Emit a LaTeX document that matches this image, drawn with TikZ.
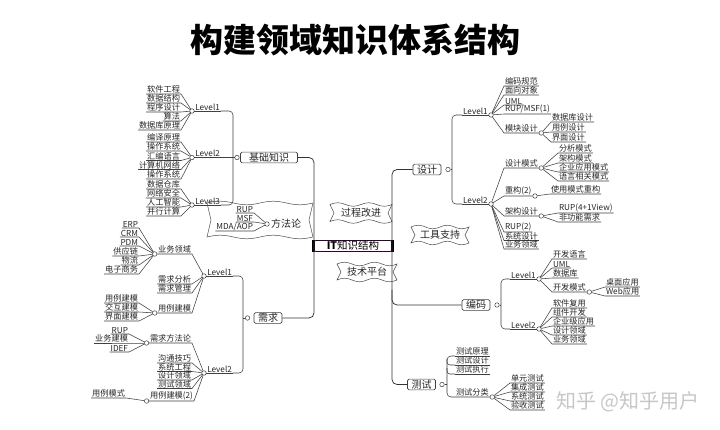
\documentclass[tikz,border=0pt]{standalone}
\usepackage{fontspec}
\setmainfont{Noto Sans CJK SC}
\usetikzlibrary{calc}
\tikzset{
  ln/.style={draw=black!75, line width=0.55pt},
  mainln/.style={draw=black!80, line width=0.75pt, rounded corners=5pt},
  kid/.style={font=\fontsize{8.2}{9}\selectfont, inner xsep=0.8pt, inner ysep=0.3pt, text=black!85},
  dot/.style={circle, draw=black!75, line width=0.5pt, fill=white, inner sep=0pt, minimum size=4.5pt},
  box/.style={draw=black!75, line width=0.6pt, rounded corners=1.5pt, font=\fontsize{10}{11}\selectfont, inner xsep=4pt, inner ysep=0.8pt, text=black!85},
  ctr/.style={draw=violet!40!black, line width=0.8pt, rounded corners=2pt, font=\fontsize{10.5}{11}\selectfont, minimum width=78pt, minimum height=11pt, inner sep=0pt},
  rib/.style={draw=black!70, line width=0.5pt},
  ribtext/.style={font=\fontsize{10}{11}\selectfont, inner sep=1pt, text=black!85},
}
\newcommand\kidsL[3]{%
  \foreach \ky/\kt [count=\kn] in {#3} {
    \node[kid, anchor=south east] (#1-\kn) at (#2,\ky) {\kt};
    \draw[ln] (#1) -- (#1-\kn.south east) -- (#1-\kn.south west);
  }}
\newcommand\kidsR[3]{%
  \foreach \ky/\kt [count=\kn] in {#3} {
    \node[kid, anchor=south west] (#1-\kn) at (#2,\ky) {\kt};
    \draw[ln] (#1) -- (#1-\kn.south west) -- (#1-\kn.south east);
  }}
\newcommand\myribbon[4]{%
 \pgfmathsetmacro\rbxa{#1-#3/2}\pgfmathsetmacro\rbxb{#1+#3/2}%
 \pgfmathsetmacro\rbya{#2-#4/2}\pgfmathsetmacro\rbyb{#2+#4/2}%
 \pgfmathsetmacro\rbq{#3/8}%
 \draw[rib] (\rbxa,\rbya)
   sin ({\rbxa+\rbq},{\rbya-1.8}) cos ({\rbxa+2*\rbq},\rbya)
   sin ({\rbxa+3*\rbq},{\rbya+1.8}) cos ({\rbxa+4*\rbq},\rbya)
   sin ({\rbxa+5*\rbq},{\rbya-1.8}) cos ({\rbxa+6*\rbq},\rbya)
   sin ({\rbxa+7*\rbq},{\rbya+1.8}) cos (\rbxb,\rbya)
   -- ({\rbxb-4},#2) -- (\rbxb,\rbyb)
   sin ({\rbxb-\rbq},{\rbyb+1.8}) cos ({\rbxb-2*\rbq},\rbyb)
   sin ({\rbxb-3*\rbq},{\rbyb-1.8}) cos ({\rbxb-4*\rbq},\rbyb)
   sin ({\rbxb-5*\rbq},{\rbyb+1.8}) cos ({\rbxb-6*\rbq},\rbyb)
   sin ({\rbxb-7*\rbq},{\rbyb-1.8}) cos (\rbxa,\rbyb)
   -- ({\rbxa+4},#2) -- cycle;
}
\begin{document}
\begin{tikzpicture}[x=1pt,y=-1pt]
\useasboundingbox (0,0) rectangle (720,430);
\fill[white] (0,0) rectangle (720,430);

% title
\node[font=\fontsize{33}{36}\selectfont\bfseries] (title) at (355,40) {构建领域知识体系结构};

% centre
\node[ctr] (it) at (353,246) {\textbf{IT}知识结构};
\fill ([xshift=-1.8pt]it.north west) rectangle ([xshift=1.8pt]it.south west);
\fill ([xshift=-1.8pt]it.north east) rectangle ([xshift=1.8pt]it.south east);

% main boxes
\node[box, minimum width=57pt] (J) at (269,157.5) {基础知识};
\node[box] (X) at (268,318) {需求};
\node[box] (D) at (427,169.5) {设计};
\node[box] (C) at (476,305) {编码};
\node[box] (T) at (421.5,384.5) {测试};

\draw[mainln] (J.east) -- (314,157.5) -- (314,318) -- (X.east);
\draw[mainln] (D.west) -- (392,169.5) -- (392,384.5) -- (T.west);
\draw[mainln] (392,290) |- (C.west);

% ribbons
\myribbon{260}{220}{106}{34}
\myribbon{361}{213}{62}{17}
\node[ribtext] (gc) at (361,213) {过程改进};
\myribbon{367}{272}{60}{16}
\node[ribtext] (js) at (367,272) {技术平台};
\myribbon{440}{235}{58}{16}
\node[ribtext] (gj) at (440,235) {工具支持};

% 方法论 inside ribbon
\node[dot] (md) at (267,224) {};
\node[ribtext, anchor=west] (ffl) at (270,223.5) {方法论};
\kidsL{md}{254}{213/RUP, 222/MSF, 231/MDA\slash AOP}

% ===== 基础知识 =====
\node[dot] (Jd) at (237,157.5) {};
\node[dot] (JL1d) at (192,111) {};
\node[dot] (JL2d) at (192,157.5) {};
\node[dot] (JL3d) at (192,205) {};
\node[kid, anchor=south west] (JL1) at ([xshift=2.3pt]JL1d.center) {Level1};
\node[kid, anchor=south west] (JL2) at ([xshift=2.3pt]JL2d.center) {Level2};
\node[kid, anchor=south west] (JL3) at ([xshift=2.3pt]JL3d.center) {Level3};
\foreach \n in {JL1,JL2,JL3} \draw[ln] (\n.south west) -- (\n.south east);
\draw[ln, rounded corners=4pt] (JL1.south east) -- (233,111) -- (233,205) -- (JL3.south east);
\draw[ln] (JL2.south east) -- (Jd);
\kidsL{JL1d}{181}{94/软件工程, 103/数据结构, 112/程序设计, 121/算法, 130/数据库原理}
\kidsL{JL2d}{181}{142/编译原理, 151/操作系统, 160.5/汇编语言, 169.5/计算机网络, 179/操作系统}
\kidsL{JL3d}{181}{189/数据仓库, 198/网络安全, 207/人工智能, 216/并行计算}

% ===== 需求 =====
\node[dot] (Xd) at (247.5,318) {};
\node[dot] (XL1d) at (204,276) {};
\node[dot] (XL2d) at (204,373) {};
\node[kid, anchor=south west] (XL1) at ([xshift=2.3pt]XL1d.center) {Level1};
\node[kid, anchor=south west] (XL2) at ([xshift=2.3pt]XL2d.center) {Level2};
\foreach \n in {XL1,XL2} \draw[ln] (\n.south west) -- (\n.south east);
\draw[ln, rounded corners=4pt] (XL1.south east) -- (243,276) -- (243,373) -- (XL2.south east);
\draw[ln] (Xd) -- (243,318);

\node[kid, anchor=south east] (yw) at (192,254) {业务领域};
\node[dot] (ywd) at ([xshift=-2.5pt]yw.south west) {};
\draw[ln] (XL1d) -- (yw.south east) -- (ywd);
\kidsL{ywd}{139}{228/ERP, 237/CRM, 246/PDM, 256/供应链, 265/物流, 274/电子商务}
\kidsL{XL1d}{192}{284/需求分析, 293/需求管理}
\node[kid, anchor=south east] (yl) at (192,313) {用例建模};
\node[dot] (yld) at ([xshift=-2.5pt]yl.south west) {};
\draw[ln] (XL1d) -- (yl.south east) -- (yld);
\kidsL{yld}{139}{303/用例建模, 312/交互建模, 321/界面建模}

\node[kid, anchor=south east] (ff) at (192,343) {需求方法论};
\node[dot] (ffd) at ([xshift=-2.5pt]ff.south west) {};
\draw[ln] (XL2d) -- (ff.south east) -- (ffd);
\kidsL{ffd}{129}{334/RUP, 343/业务建模, 352/IDEF}
\kidsL{XL2d}{192}{363/沟通技巧, 371.5/系统工程, 380/设计领域, 388.5/测试领域}
\node[kid, anchor=south east] (yl2) at (194,401) {用例建模(2)};
\node[dot] (yl2d) at ([xshift=-2.5pt]yl2.south west) {};
\draw[ln] (XL2d) -- (yl2.south east) -- (yl2d);
\kidsL{yl2d}{126}{398/用例模式}

% ===== 设计 =====
\node[dot] (Dd) at (448,169.5) {};
\node[dot] (DL1d) at (491,115) {};
\node[dot] (DL2d) at (491,204) {};
\node[kid, anchor=south east] (DL1) at ([xshift=-2.3pt]DL1d.center) {Level1};
\node[kid, anchor=south east] (DL2) at ([xshift=-2.3pt]DL2d.center) {Level2};
\foreach \n in {DL1,DL2} \draw[ln] (\n.south west) -- (\n.south east);
\draw[ln, rounded corners=4pt] (DL1.south west) -- (452,115) -- (452,204) -- (DL2.south west);
\draw[ln] (Dd) -- (452,169.5);
\kidsR{DL1d}{504}{86/编码规范, 95/面向对象, 105/UML, 114/RUP\slash MSF(1)}
\node[kid, anchor=south west] (mk) at (504,133) {模块设计};
\node[dot] (mkd) at ([xshift=2.5pt]mk.south east) {};
\draw[ln] (DL1d) -- (mk.south west) -- (mkd);
\kidsR{mkd}{551}{122/数据库设计, 132/用例设计, 142/界面设计}

\node[kid, anchor=south west] (sj) at (504,168) {设计模式};
\node[dot] (sjd) at ([xshift=2.5pt]sj.south east) {};
\draw[ln] (DL2d) -- (sj.south west) -- (sjd);
\kidsR{sjd}{558}{153/分析模式, 163/架构模式, 172/企业应用模式, 181/语言相关模式}
\node[kid, anchor=south west] (cg) at (504,196) {重构(2)};
\node[dot] (cgd) at ([xshift=2.5pt]cg.south east) {};
\draw[ln] (DL2d) -- (cg.south west) -- (cgd);
\kidsR{cgd}{550}{194/使用模式重构}
\node[kid, anchor=south west] (jg) at (504,216) {架构设计};
\node[dot] (jgd) at ([xshift=2.5pt]jg.south east) {};
\draw[ln] (DL2d) -- (jg.south west) -- (jgd);
\kidsR{jgd}{558}{213/RUP(4+1View), 222/非功能需求}
\kidsR{DL2d}{504}{232/RUP(2), 240.5/系统设计, 249/业务领域}

% ===== 编码 =====
\node[dot] (Cd) at (497,305) {};
\node[dot] (CL1d) at (539,279) {};
\node[dot] (CL2d) at (539,329) {};
\node[kid, anchor=south east] (CL1) at ([xshift=-2.3pt]CL1d.center) {Level1};
\node[kid, anchor=south east] (CL2) at ([xshift=-2.3pt]CL2d.center) {Level2};
\foreach \n in {CL1,CL2} \draw[ln] (\n.south west) -- (\n.south east);
\draw[ln, rounded corners=4pt] (CL1.south west) -- (501,279) -- (501,329) -- (CL2.south west);
\draw[ln] (Cd) -- (501,305);
\kidsR{CL1d}{552}{259/开发语言, 268/UML, 278/数据库}
\node[kid, anchor=south west] (kf) at (552,292) {开发模式};
\node[dot] (kfd) at ([xshift=2.5pt]kf.south east) {};
\draw[ln] (CL1d) -- (kf.south west) -- (kfd);
\kidsR{kfd}{605}{287/桌面应用, 296/Web应用}
\kidsR{CL2d}{552}{308/软件复用, 317/组件开发, 326/企业级应用, 335/设计领域, 344/业务领域}

% ===== 测试 =====
\node[dot] (Td) at (442,384.5) {};
\node[kid, anchor=south west] (t1) at (455,356) {测试原理};
\node[kid, anchor=south west] (t2) at (455,365) {测试设计};
\node[kid, anchor=south west] (t3) at (455,374) {测试执行};
\node[kid, anchor=south west] (tf) at (455,397) {测试分类};
\node[dot] (tfd) at ([xshift=2.5pt]tf.south east) {};
\foreach \n in {t1,t2,t3} \draw[ln] (\n.south west) -- (\n.south east);
\draw[ln, rounded corners=4pt] (t1.south west) -- (447,356) -- (447,397) -- (tf.south west) -- (tfd);
\draw[ln, rounded corners=3pt] (447,359) |- (t2.south west);
\draw[ln, rounded corners=3pt] (447,368) |- (t3.south west);
\draw[ln] (Td) -- (447,384.5);
\kidsR{tfd}{510}{383/单元测试, 392/集成测试, 401/系统测试, 410/验收测试}

% watermark
\node[text=black!22, font=\fontsize{20}{22}\selectfont] (wm) at (628,402) {知乎 @知乎用户};
\end{tikzpicture}
\end{document}
